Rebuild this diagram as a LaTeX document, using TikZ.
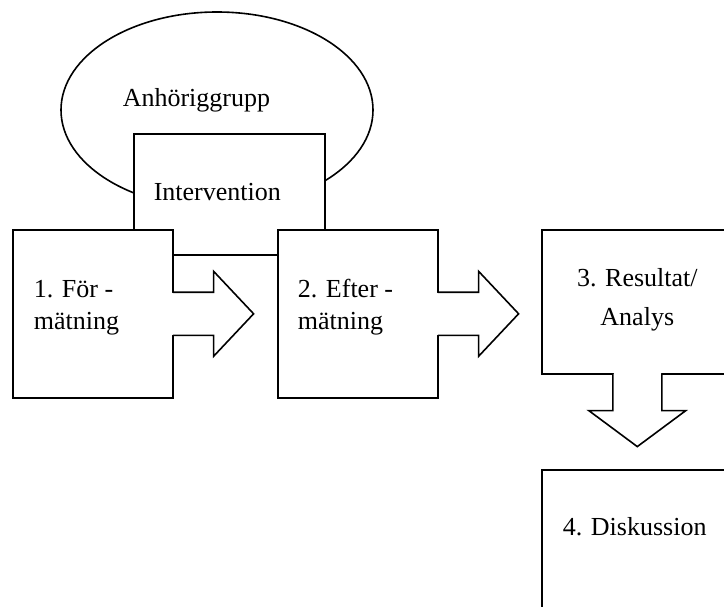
\documentclass[tikz,border=0pt]{standalone}
\usepackage{fontspec}
\setmainfont{Liberation Serif}
\usepackage{tikz}
\usetikzlibrary{shapes,positioning,calc}

\begin{document}
\begin{tikzpicture}[
    x=1pt, y=-1pt, line width=1.6pt,
    stage/.style={draw, fill=white, anchor=north west, inner sep=0pt},
    txt/.style={font=\fontsize{26}{32}\selectfont, anchor=base west, inner sep=0pt, align=left},
    blockarrow/.style={draw, fill=white, line join=miter},
]
    \useasboundingbox (0,0) rectangle (724,607);
    \clip (0,0) rectangle (724,607);
    % family group, partly behind the intervention box
    \node[draw, ellipse, minimum width=312pt, minimum height=196pt] (grp) at (217,110) {};
    \node[txt] (grptxt) at (122,107) {Anhöriggrupp};
    % intervention box
    \node[stage, minimum width=191pt, minimum height=121pt] (int) at (133,133) {};
    \node[txt] (inttxt) at ($(int.north west)+(20,68)$) {Intervention};
    % the four stages
    \node[stage, minimum width=160pt, minimum height=168pt] (s1) at (12,229) {};
    \node[stage, minimum width=160pt, minimum height=168pt] (s2) at (277,229) {};
    \node[stage, minimum width=191pt, minimum height=144pt] (s3) at (541,229) {};
    \node[stage, minimum width=191pt, minimum height=200pt] (s4) at (541,469) {};
    % base anchor of a two-line text sits on its last line
    \node[txt] (s1txt) at ($(s1.north west)+(21,100.5)$) {1. För -\\mätning};
    \node[txt] (s2txt) at ($(s2.north west)+(20,100.5)$) {2. Efter -\\mätning};
    \node[txt, anchor=base, align=center, font=\fontsize{26}{39}\selectfont] (s3txt) at ($(s3.north)+(0,96)$) {3. Resultat/\\Analys};
    \node[txt] (s4txt) at ($(s4.north west)+(21,66)$) {4. Diskussion};
    % open the box sides where the arrows leave
    \fill[white] ($(s1.east)+(-3,-20.7)$) rectangle ($(s1.east)+(3,20.7)$);
    \fill[white] ($(s2.east)+(-3,-20.7)$) rectangle ($(s2.east)+(3,20.7)$);
    \fill[white] ($(s3.south)+(-23.7,-3)$) rectangle ($(s3.south)+(23.7,3)$);
    % block arrows out of the stage boxes
    \draw[blockarrow] ($(s1.east)+(-0.8,-21.5)$) -- ++(40.8,0) -- ++(0,-21) -- ++(40,42.5) -- ++(-40,42.5) -- ++(0,-21) -- ++(-40.8,0);
    \draw[blockarrow] ($(s2.east)+(-0.8,-21.5)$) -- ++(40.8,0) -- ++(0,-21) -- ++(40,42.5) -- ++(-40,42.5) -- ++(0,-21) -- ++(-40.8,0);
    \draw[blockarrow] ($(s3.south)+(-24.5,-0.8)$) -- ++(0,36.8) -- ++(-24,0) -- ++(48.5,36) -- ++(48.5,-36) -- ++(-24,0) -- ++(0,-36.8);
\end{tikzpicture}
\end{document}
